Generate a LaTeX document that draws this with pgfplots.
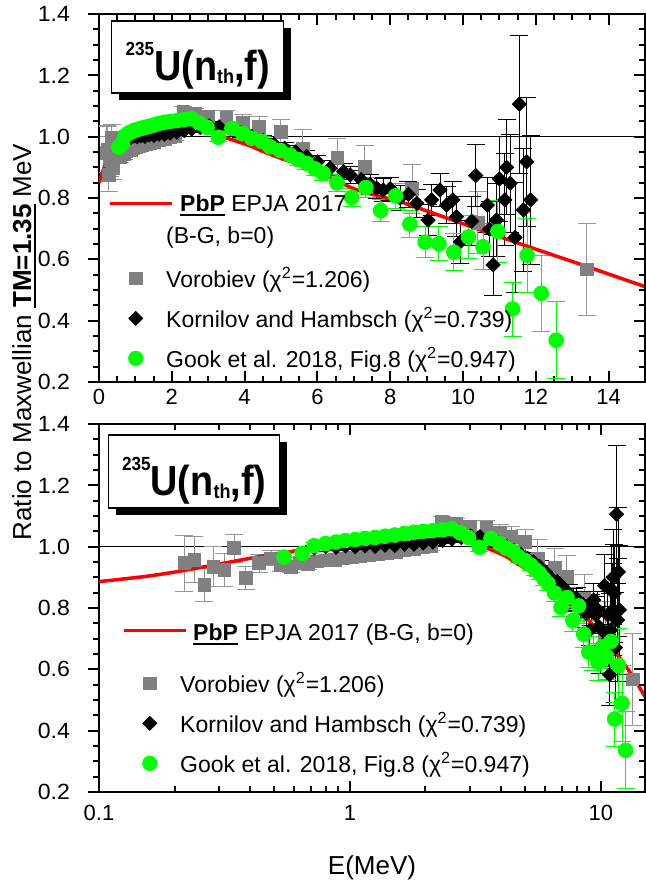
\documentclass[border=0pt]{standalone}
\usepackage{pgfplots}
\usepackage{pgfplotstable}
\usepackage{graphicx}
\pgfplotsset{compat=1.18}
\usepackage{fontspec}
\setmainfont{Liberation Sans}
\definecolor{vgray}{RGB}{128,128,128}
\definecolor{vgrayerr}{RGB}{150,150,150}
\definecolor{ggreen}{RGB}{0,255,0}
\definecolor{pred}{RGB}{255,0,0}
\newcommand\ul[1]{\setbox0\hbox{#1}\rlap{\rule[-2.2pt]{\wd0}{0.9pt}}\box0\relax}

\pgfplotstableread{
E R err
0.219 0.946 0.092
0.240 0.957 0.075
0.263 0.875 0.055
0.286 0.935 0.065
0.316 0.924 0.055
0.346 0.995 0.045
0.385 0.897 0.038
0.435 0.946 0.030
0.485 0.962 0.025
0.53 0.940 0.022
0.58 0.935 0.020
0.63 0.948 0.018
0.68 0.942 0.016
0.74 0.952 0.015
0.80 0.955 0.014
0.87 0.958 0.013
0.94 0.962 0.012
1.02 0.965 0.012
1.10 0.968 0.012
1.19 0.972 0.012
1.29 0.976 0.012
1.40 0.980 0.012
1.52 0.984 0.012
1.65 0.988 0.012
1.80 0.993 0.013
1.95 0.998 0.013
2.10 1.002 0.014
2.32 1.081 0.016
2.65 1.075 0.018
3.00 1.065 0.020
3.50 1.060 0.024
3.95 1.045 0.028
4.40 1.033 0.033
5.00 1.016 0.040
5.60 0.962 0.060
6.55 0.930 0.065
7.30 0.902 0.070
8.60 0.830 0.080
10.40 0.720 0.100
13.40 0.567 0.150
}\vorobiev

\pgfplotstableread{
E R err
0.72 0.995 0.010
0.80 1.000 0.010
0.88 0.998 0.010
0.96 1.002 0.010
1.05 1.000 0.010
1.15 1.003 0.010
1.26 1.001 0.010
1.38 1.005 0.010
1.51 1.004 0.010
1.65 1.008 0.010
1.80 1.008 0.010
1.96 1.012 0.010
2.14 1.015 0.011
2.34 1.020 0.011
2.55 1.025 0.012
2.78 1.030 0.012
3.03 1.035 0.013
3.30 1.032 0.013
3.60 1.025 0.014
3.90 1.012 0.015
4.20 1.000 0.016
4.50 0.988 0.017
4.80 0.975 0.018
5.10 0.962 0.019
5.40 0.950 0.020
5.70 0.935 0.021
6.00 0.918 0.022
6.35 0.897 0.024
6.72 0.886 0.026
6.90 0.875 0.028
7.20 0.860 0.030
7.45 0.845 0.032
7.63 0.832 0.034
7.81 0.826 0.036
8.00 0.830 0.038
8.27 0.800 0.040
8.50 0.812 0.042
8.73 0.783 0.045
9.04 0.728 0.050
9.14 0.794 0.050
9.37 0.826 0.055
9.55 0.777 0.060
9.72 0.794 0.060
9.82 0.739 0.065
9.93 0.657 0.070
10.24 0.724 0.080
10.35 0.873 0.100
10.67 0.777 0.090
10.73 0.698 0.090
10.83 0.582 0.100
10.92 0.728 0.120
11.00 0.862 0.140
11.15 0.794 0.150
11.20 0.900 0.155
11.30 0.848 0.160
11.43 0.671 0.180
11.55 1.106 0.225
11.66 0.761 0.200
11.75 0.918 0.210
11.86 0.794 0.210
}\kornilov

\pgfplotstableread{
E R err
0.547 0.966 0.012
0.645 0.978 0.012
0.72 1.003 0.010
0.80 1.010 0.010
0.88 1.015 0.010
0.96 1.020 0.010
1.05 1.023 0.010
1.15 1.027 0.010
1.26 1.030 0.010
1.38 1.034 0.010
1.51 1.038 0.010
1.65 1.043 0.010
1.80 1.047 0.011
1.96 1.050 0.011
2.14 1.052 0.011
2.34 1.055 0.012
2.54 1.058 0.012
2.75 1.045 0.012
2.97 1.030 0.013
3.28 0.998 0.013
3.65 1.027 0.014
3.95 1.010 0.015
4.19 0.995 0.015
4.47 0.985 0.016
4.70 0.967 0.017
4.98 0.955 0.018
5.25 0.940 0.019
5.48 0.925 0.020
5.70 0.913 0.021
5.93 0.895 0.022
6.16 0.880 0.024
6.54 0.849 0.027
6.94 0.802 0.030
7.33 0.834 0.033
7.74 0.759 0.037
8.15 0.807 0.040
8.54 0.715 0.045
8.96 0.656 0.050
9.34 0.651 0.055
9.75 0.623 0.060
10.15 0.673 0.070
10.55 0.641 0.075
10.96 0.691 0.100
11.36 0.438 0.088
11.76 0.613 0.120
12.15 0.489 0.125
12.56 0.336 0.126
}\gook

% PbP curve, linear panel (starts at E=0)
\pgfplotstableread{
E R
0.001 0.849
0.1 0.886
0.2 0.917
0.3 0.943
0.4 0.962
0.5 0.976
0.7 0.993
1.0 1.008
1.3 1.025
1.7 1.045
2.05 1.054
2.5 1.050
2.9 1.030
3.3 1.003
3.6 0.992
4.15 0.970
4.5 0.952
5.1 0.925
5.5 0.910
6.0 0.886
6.5 0.858
7.0 0.830
7.5 0.812
8.27 0.788
9.0 0.758
10.0 0.716
11.0 0.674
12.0 0.633
13.0 0.593
14.0 0.552
15.0 0.511
}\pbplin

% PbP curve, log panel (from E=0.1)
\pgfplotstableread{
E R
0.1 0.886
0.15 0.902
0.2 0.917
0.3 0.943
0.4 0.962
0.5 0.976
0.7 0.993
1.0 1.008
1.3 1.025
1.7 1.045
2.05 1.054
2.5 1.050
2.9 1.030
3.3 1.003
3.6 0.992
4.15 0.970
4.5 0.952
5.1 0.925
5.5 0.910
6.0 0.886
6.5 0.858
7.0 0.830
7.5 0.812
8.27 0.788
9.0 0.758
10.0 0.716
11.0 0.674
12.0 0.633
13.0 0.593
14.0 0.552
15.0 0.511
}\pbplog

\pgfplotsset{
  panel/.style={
    scale only axis, width=273pt, height=184pt,
    ymin=0.2, ymax=1.4, ytick={0.2,0.4,0.6,0.8,1.0,1.2,1.4}, minor y tick num=3,
    axis line style={line width=1pt},
    tick style={line width=1pt, black},
    major tick length=5.5pt, minor tick length=3pt,
    ytick pos=left, ytick align=outside, xtick align=inside,
    tick label style={font=\fontsize{11}{13}\selectfont},
    /pgf/number format/assume math mode=true,
    yticklabel={\scalebox{1.05}[1]{\pgfmathprintnumber[fixed,fixed zerofill,precision=1]{\tick}}},
    yticklabel style={xshift=-5.5pt, font=\fontsize{11}{13}\selectfont},
    legend cell align=left,
    legend style={draw=none, fill=none, inner sep=0pt, row sep=7pt, column sep=7pt,
      nodes={inner sep=0pt, text height=10pt, text depth=3pt},
      font=\fontsize{11.5}{13}\selectfont},
  },
  rticks/.style={
    scale only axis, width=273pt, height=184pt,
    ymin=0.2, ymax=1.4, ytick={0.2,0.4,0.6,0.8,1.0,1.2,1.4}, minor y tick num=3,
    axis x line=none, axis y line*=right, yticklabels={},
    ytick align=inside, axis line style={line width=1pt},
    tick style={line width=1pt, black},
    major tick length=5.5pt, minor tick length=3pt,
  },
  vor/.style={only marks, mark=square*, mark size=3.2pt, color=vgray,
    mark options={fill=vgray, draw=vgray},
    error bars/.cd, y dir=both, y explicit, error mark=|,
    error bar style={line width=0.5pt, color=vgrayerr},
    error mark options={mark size=4.5pt, line width=0.5pt, color=vgrayerr},
    /pgfplots/.cd},
  kor/.style={only marks, mark=square*, mark size=2.5pt, color=black,
    mark options={fill=black, draw=black, rotate=45},
    error bars/.cd, y dir=both, y explicit, error mark=|,
    error bar style={line width=0.5pt, color=black},
    error mark options={mark size=4.5pt, line width=0.5pt, color=black},
    /pgfplots/.cd},
  gk/.style={only marks, mark=*, mark size=3.7pt, color=ggreen,
    mark options={fill=ggreen, draw=ggreen},
    error bars/.cd, y dir=both, y explicit, error mark=|,
    error bar style={line width=0.5pt, color=ggreen},
    error mark options={mark size=4.5pt, line width=0.5pt, color=ggreen},
    /pgfplots/.cd},
  pbpline/.style={color=pred, line width=1.75pt, no marks, smooth, tension=0.4},
  imglineT/.style={legend image code/.code={\draw[overlay, pred, line width=1.75pt] (-13pt,-1.5pt) -- (18pt,-1.5pt); \path (-8pt,0pt) (8pt,0pt);}},
  imglineB/.style={legend image code/.code={\draw[overlay, pred, line width=1.75pt] (-13pt,7.5pt) -- (18pt,7.5pt); \path (-8pt,0pt) (8pt,0pt);}},
  imgnone/.style={legend image code/.code={\path (-8pt,0pt) (8pt,0pt);}},
  imgsq/.style={legend image code/.code={\path (-8pt,0pt) (8pt,0pt); \fill[vgray] (-3.2pt,-2.2pt) rectangle (3.2pt,4.2pt);}},
  imgdia/.style={legend image code/.code={\path (-8pt,0pt) (8pt,0pt); \fill[black] (0pt,-2.5pt) -- (3.5pt,1pt) -- (0pt,4.5pt) -- (-3.5pt,1pt) -- cycle;}},
  imgcirc/.style={legend image code/.code={\path (-8pt,0pt) (8pt,0pt); \fill[ggreen] (0pt,1pt) circle (3.6pt);}},
}

\begin{document}
\begin{tikzpicture}
% ---------------- top panel (linear) ----------------
\begin{axis}[panel, name=T, at={(0pt,205pt)}, anchor=south west,
  xmin=0, xmax=15, xtick={0,2,4,6,8,10,12,14}, minor x tick num=3,
  legend style={at={(rel axis cs:0.0366,0.530)}, anchor=north west}]
  \addlegendimage{imglineT}
  \addlegendentry{\raisebox{-2pt}{\hspace{7pt}\ul{\textbf{PbP}} EPJA 2017}}
  \addlegendimage{imgnone}
  \addlegendentry{\raisebox{2pt}{(B-G, b=0)}}
  \addlegendimage{imgsq}
  \addlegendentry{Vorobiev (χ\textsuperscript{2}=1.206)}
  \addlegendimage{imgdia}
  \addlegendentry{Kornilov and Hambsch (χ\textsuperscript{2}=0.739)}
  \addlegendimage{imgcirc}
  \addlegendentry{Gook et al. 2018, Fig.8 (χ\textsuperscript{2}=0.947)}
  \addplot[forget plot, black, line width=0.7pt] coordinates {(0,1) (15,1)};
  \addplot[forget plot, vor] table[x=E, y=R, y error=err] {\vorobiev};
  \addplot[forget plot, kor] table[x=E, y=R, y error=err] {\kornilov};
  \addplot[forget plot, gk] table[x=E, y=R, y error=err] {\gook};
  \addplot[forget plot, pbpline] table[x=E, y=R] {\pbplin};
\end{axis}
\begin{axis}[rticks, at={(0pt,205pt)}, anchor=south west, xmin=0, xmax=15]
\end{axis}
% ---------------- bottom panel (log) ----------------
\begin{axis}[panel, name=B, at={(0pt,0pt)}, anchor=south west,
  xmode=log, xmin=0.1, xmax=15, xtick={0.1,1,10}, xticklabels={0.1,1,10},
  xticklabel style={yshift=-3pt},
  xlabel={E(MeV)}, xlabel style={font=\fontsize{13}{15}\selectfont, at={(axis description cs:0.5,0)}, anchor=north, yshift=-28.5pt},
  legend style={at={(rel axis cs:0.0623,0.435)}, anchor=north west}]
  \addlegendimage{imglineB}
  \addlegendentry{\raisebox{6pt}{\hspace{6.5pt}\ul{\textbf{PbP}} EPJA 2017 (B-G, b=0)}}
  \addlegendimage{imgsq}
  \addlegendentry{Vorobiev (χ\textsuperscript{2}=1.206)}
  \addlegendimage{imgdia}
  \addlegendentry{Kornilov and Hambsch (χ\textsuperscript{2}=0.739)}
  \addlegendimage{imgcirc}
  \addlegendentry{Gook et al. 2018, Fig.8 (χ\textsuperscript{2}=0.947)}
  \addplot[forget plot, black, line width=0.7pt] coordinates {(0.1,1) (15,1)};
  \addplot[forget plot, vor] table[x=E, y=R, y error=err] {\vorobiev};
  \addplot[forget plot, kor] table[x=E, y=R, y error=err] {\kornilov};
  \addplot[forget plot, gk] table[x=E, y=R, y error=err] {\gook};
  \addplot[forget plot, pbpline] table[x=E, y=R] {\pbplog};
\end{axis}
\begin{axis}[rticks, at={(0pt,0pt)}, anchor=south west, xmode=log, xmin=0.1, xmax=15]
\end{axis}
% ---------------- title boxes ----------------
\fill[black] ([xshift=10pt,yshift=-7pt]T.north west) rectangle ++(86pt,-36pt);
\node[draw=black, fill=white, line width=0.75pt, minimum width=86pt, minimum height=36pt,
  inner sep=0pt, anchor=north west] (tb) at ([xshift=6pt,yshift=-3pt]T.north west) {};
\node[anchor=base, inner sep=0pt] at ([yshift=-12pt]tb.center)
  {\fontsize{21}{24}\bfseries\scalebox{0.9}[1]{\raisebox{12.5pt}{\fontsize{9.5}{10}\selectfont 235}U(n\raisebox{-1.5pt}{\fontsize{10}{11}\selectfont th},f)}};
\fill[black] ([xshift=8.5pt,yshift=-9pt]B.north west) rectangle ++(85.5pt,-36.5pt);
\node[draw=black, fill=white, line width=0.75pt, minimum width=85.5pt, minimum height=36.5pt,
  inner sep=0pt, anchor=north west] (bb) at ([xshift=4.5pt,yshift=-5pt]B.north west) {};
\node[anchor=base, inner sep=0pt] at ([yshift=-12pt]bb.center)
  {\fontsize{21}{24}\bfseries\scalebox{0.9}[1]{\raisebox{12.5pt}{\fontsize{9.5}{10}\selectfont 235}U(n\raisebox{-1.5pt}{\fontsize{10}{11}\selectfont th},f)}};
% ---------------- y label ----------------
\node[rotate=90, inner sep=0pt, font=\fontsize{13}{15}\selectfont] at (-37.5pt,225pt)
  {Ratio to Maxwellian \ul{\textbf{TM=1.35}} MeV};
\pgfresetboundingbox
\path[use as bounding box] (-49.5pt,-44pt) rectangle (273.5pt,396pt);
\end{tikzpicture}
\end{document}
